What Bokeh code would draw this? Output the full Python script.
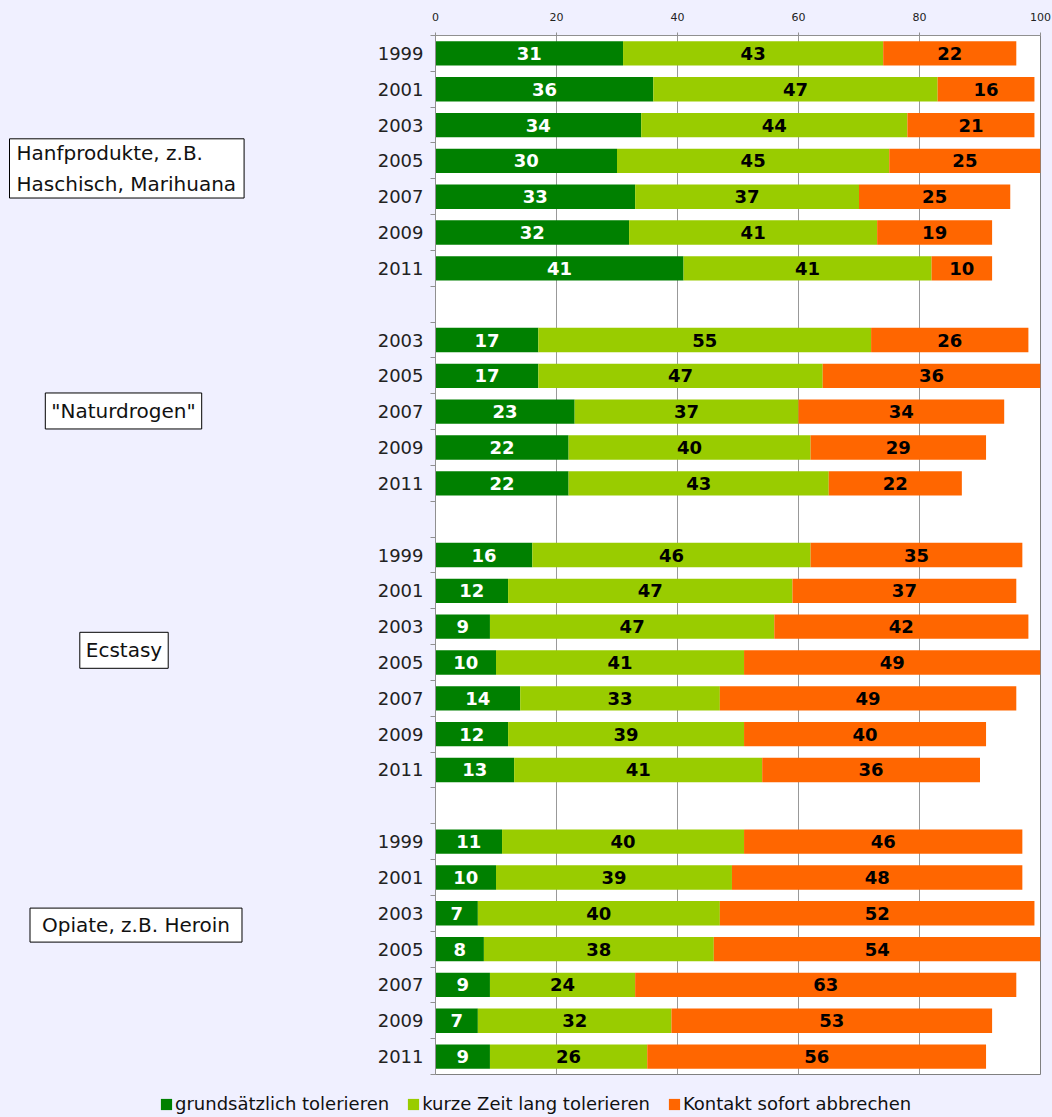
import numpy as np
from bokeh.plotting import figure
from bokeh.layouts import row, column
from bokeh.models import ColumnDataSource, Range1d, FixedTicker, Label, Legend, LegendItem
from bokeh.core.properties import value
from bokeh.embed import file_html
from bokeh.resources import INLINE

series_names = ["grundsätzlich tolerieren", "kurze Zeit lang tolerieren", "Kontakt sofort abbrechen"]
colors = ["#008000", "#99CC00", "#FF6600"]

group_names = ["Hanfprodukte, z.B.\nHaschisch, Marihuana", "\"Naturdrogen\"", "Ecstasy", "Opiate, z.B. Heroin"]

hanf_years = ["1999", "2001", "2003", "2005", "2007", "2009", "2011"]
hanf_grund = [31, 36, 34, 30, 33, 32, 41]
hanf_kurz = [43, 47, 44, 45, 37, 41, 41]
hanf_kontakt = [22, 16, 21, 25, 25, 19, 10]

natur_years = ["2003", "2005", "2007", "2009", "2011"]
natur_grund = [17, 17, 23, 22, 22]
natur_kurz = [55, 47, 37, 40, 43]
natur_kontakt = [26, 36, 34, 29, 22]

ecstasy_years = ["1999", "2001", "2003", "2005", "2007", "2009", "2011"]
ecstasy_grund = [16, 12, 9, 10, 14, 12, 13]
ecstasy_kurz = [46, 47, 47, 41, 33, 39, 41]
ecstasy_kontakt = [35, 37, 42, 49, 49, 40, 36]

opiate_years = ["1999", "2001", "2003", "2005", "2007", "2009", "2011"]
opiate_grund = [11, 10, 7, 8, 9, 7, 9]
opiate_kurz = [40, 39, 40, 38, 24, 32, 26]
opiate_kontakt = [46, 48, 52, 54, 63, 53, 56]

groups = [
    (hanf_years, hanf_grund, hanf_kurz, hanf_kontakt),
    (natur_years, natur_grund, natur_kurz, natur_kontakt),
    (ecstasy_years, ecstasy_grund, ecstasy_kurz, ecstasy_kontakt),
    (opiate_years, opiate_grund, opiate_kurz, opiate_kontakt),
]

ys, labels, g, k, c = [], [], [], [], []
rowi = 0
for gi, (yrs, a, b, d) in enumerate(groups):
    for i in range(len(yrs)):
        ys.append(rowi + 0.5)
        labels.append(yrs[i])
        g.append(a[i]); k.append(b[i]); c.append(d[i])
        rowi += 1
    if gi < len(groups) - 1:
        rowi += 1
nrows = rowi

g = np.array(g, float); k = np.array(k, float); c = np.array(c, float)
src = ColumnDataSource(dict(
    y=ys, g=g, k=k, c=c,
    xg=g / 2, xk=g + k / 2, xc=g + k + c / 2,
    tg=[str(int(v)) for v in g], tk=[str(int(v)) for v in k], tc=[str(int(v)) for v in c],
))

BG = "#F0F0FF"
FONT = "DejaVu Sans"
bgstyle = {"background-color": BG}

yr = Range1d(nrows, 0)

p = figure(width=692, height=1075, output_backend="svg", toolbar_location=None,
           x_range=Range1d(0, 100), y_range=yr,
           x_axis_location="above",
           min_border_left=75, min_border_right=12, min_border_top=35, min_border_bottom=1,
           styles=bgstyle)
p.background_fill_color = "white"
p.border_fill_color = BG
p.outline_line_color = "#808080"
p.outline_line_width = 1

renderers = p.hbar_stack(["g", "k", "c"], y="y", height=0.68, color=colors, source=src,
                         line_color=None)

for xcol, tcol, tcolor in [("xg", "tg", "white"), ("xk", "tk", "black"), ("xc", "tc", "black")]:
    p.text(x=xcol, y="y", text=tcol, source=src, text_color=tcolor,
           text_font=value(FONT), text_font_style="bold", text_font_size="18px",
           text_align="center", text_baseline="middle")

p.xaxis.ticker = FixedTicker(ticks=[0, 20, 40, 60, 80, 100])
p.xaxis.major_label_text_font = FONT
p.xaxis.major_label_text_font_size = "11px"
p.xaxis.major_label_text_color = "#222222"
p.xaxis.axis_line_color = "#909090"
p.xaxis.major_tick_line_color = "#909090"
p.xaxis.major_tick_out = 3
p.xaxis.major_tick_in = 0
p.xaxis.minor_tick_line_color = None
p.xaxis.major_label_standoff = 12

p.yaxis.ticker = FixedTicker(ticks=ys, minor_ticks=list(range(0, nrows + 1)))
p.yaxis.major_label_overrides = {y: lab for y, lab in zip(ys, labels)}
p.yaxis.major_label_text_font = FONT
p.yaxis.major_label_text_font_size = "18px"
p.yaxis.major_label_text_color = "#222222"
p.yaxis.major_tick_line_color = None
p.yaxis.major_tick_out = 0
p.yaxis.major_tick_in = 0
p.yaxis.minor_tick_line_color = "#909090"
p.yaxis.minor_tick_out = 5
p.yaxis.minor_tick_in = 0
p.yaxis.axis_line_color = "#909090"
p.yaxis.major_label_standoff = 7

p.xgrid.grid_line_color = "#999999"
p.ygrid.grid_line_color = None

# left panel with group labels (x in pixels, y shared with the bars)
left = figure(width=360, height=1075, output_backend="svg", toolbar_location=None,
              x_range=Range1d(0, 360), y_range=yr,
              min_border_left=0, min_border_right=0, min_border_top=35, min_border_bottom=1,
              styles=bgstyle)
left.axis.visible = False
left.grid.visible = False
left.outline_line_color = None
left.background_fill_color = BG
left.border_fill_color = BG

label_pos = [(9, 3.71, "left", (7, 8, 2, 2)),
             (123, 10.48, "center", 6),
             (123.5, 17.16, "center", 6),
             (135.5, 24.83, "center", (12, 12, 5, 5))]
for name, (lx, ly, al, pad) in zip(group_names, label_pos):
    left.add_layout(Label(x=lx, y=ly, text=name, text_font=FONT, text_font_size="20px",
                          text_color="#111111", text_align=al, text_baseline="middle",
                          text_line_height=1.3,
                          border_line_color="black", border_line_width=1,
                          background_fill_color="white", padding=pad))

# legend strip (proxy renderers, hidden, only used for the legend swatches)
leg = figure(width=1052, height=42, output_backend="svg", toolbar_location=None,
             x_range=Range1d(0, 1), y_range=Range1d(0, 1),
             min_border_left=0, min_border_right=0, min_border_top=0, min_border_bottom=0,
             styles=bgstyle)
leg.axis.visible = False
leg.grid.visible = False
leg.outline_line_color = None
leg.background_fill_color = BG
leg.border_fill_color = BG
proxy = ColumnDataSource(dict(x=[0], y=[0]))
leg_r = []
for col in colors:
    r = leg.rect(x="x", y="y", width=1, height=1, source=proxy, fill_color=col, line_color=None)
    r.visible = False
    leg_r.append(r)
legend = Legend(items=[LegendItem(label=n, renderers=[r]) for n, r in zip(series_names, leg_r)],
                orientation="horizontal", location=(159, 3),
                label_text_font=FONT, label_text_font_size="18px", label_text_color="#111111",
                glyph_width=14, glyph_height=14, label_standoff=2, spacing=17,
                padding=0, margin=0, background_fill_alpha=0, border_line_alpha=0,
                label_height=20)
leg.add_layout(legend)

layout = column(row(left, p, styles=bgstyle), leg, styles=bgstyle)
open("out.html", "w").write(file_html(layout, INLINE))
